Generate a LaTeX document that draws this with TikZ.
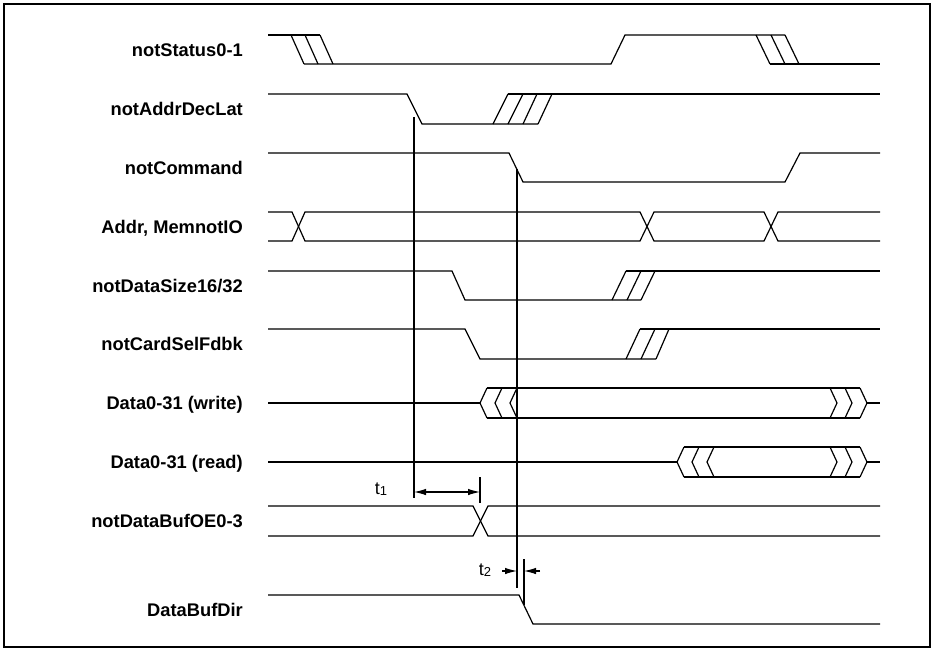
\documentclass[tikz,border=0pt]{standalone}
\usepackage{fontspec}
\setmainfont{Liberation Sans}
\usetikzlibrary{arrows.meta}
\tikzset{
  sig/.style={line width=1.2pt, line join=miter},
  mark line/.style={line width=1.1pt},
  frame/.style={line width=1.4pt},
  lbl/.style={anchor=base east, inner sep=0pt, font=\bfseries\fontsize{18.3}{20}\selectfont},
  tlbl/.style={anchor=center, inner sep=0pt, font=\fontsize{18}{19}\selectfont},
  dim/.style={line width=1.1pt, -{Latex[length=12pt,width=6.5pt]}},
}
\begin{document}
\begin{tikzpicture}[x=1pt,y=-1pt]
\useasboundingbox (0,0) rectangle (934,651);
\draw[frame] (4,4) rectangle (930,647);

% labels
\node[lbl] (l1)  at (243,56.1)  {notStatus0-1};
\node[lbl] (l2)  at (243,115.6) {notAddrDecLat};
\node[lbl] (l3)  at (243,174.1) {notCommand};
\node[lbl] (l4)  at (243,233.1) {Addr, MemnotIO};
\node[lbl] (l5)  at (243,292.1) {notDataSize16/32};
\node[lbl] (l6)  at (243,350.6) {notCardSelFdbk};
\node[lbl] (l7)  at (243,409.6) {Data0-31 (write)};
\node[lbl] (l8)  at (243,468.6) {Data0-31 (read)};
\node[lbl] (l9)  at (243,527.6) {notDataBufOE0-3};
\node[lbl] (l10) at (243,616.1) {DataBufDir};

% notStatus0-1
\draw[sig] (268,35) -- (320,35);
\draw[sig] (291,35) -- (304,64) (305,35) -- (318,64) (320,35) -- (333,64);
\draw[sig] (304,64) -- (611,64) -- (625,35) -- (785,35);
\draw[sig] (756,35) -- (770,64) (771,35) -- (785,64) (785,35) -- (799,64);
\draw[sig] (770,64) -- (880,64);

% notAddrDecLat
\draw[sig] (268,94) -- (407,94) -- (422,124) -- (538,124);
\draw[sig] (493,124) -- (508,94) (508,124) -- (523,94) (523,124) -- (537,94) (538,124) -- (552,94);
\draw[sig] (508,94) -- (880,94);

% notCommand
\draw[sig] (268,153) -- (509,153) -- (523,182) -- (785,182) -- (800,153) -- (880,153);

% Addr, MemnotIO
\draw[sig] (268,212) -- (292,212) -- (305,241) -- (640,241) -- (654,212) -- (764,212) -- (778,241) -- (880,241);
\draw[sig] (268,241) -- (292,241) -- (305,212) -- (640,212) -- (654,241) -- (764,241) -- (778,212) -- (880,212);

% notDataSize16/32
\draw[sig] (268,271) -- (452,271) -- (465,300) -- (641,300);
\draw[sig] (612,300) -- (626,271) (627,300) -- (641,271) (641,300) -- (655,271);
\draw[sig] (626,271) -- (880,271);

% notCardSelFdbk
\draw[sig] (268,329) -- (465,329) -- (480,359) -- (656,359);
\draw[sig] (626,359) -- (640,329) (641,359) -- (655,329) (656,359) -- (669,329);
\draw[sig] (640,329) -- (880,329);

% Data0-31 (write)
\draw[sig] (268,403) -- (480,403);
\foreach \x in {480,495,510} \draw[sig] (\x+7,388) -- (\x,403) -- (\x+7,418);
\draw[sig] (487,388) -- (860,388) (487,418) -- (860,418);
\foreach \x in {830,845,860} \draw[sig] (\x,388) -- (\x+7,403) -- (\x,418);
\draw[sig] (867,403) -- (880,403);

% Data0-31 (read)
\draw[sig] (268,462) -- (677,462);
\foreach \x in {677,692,707} \draw[sig] (\x+7,447) -- (\x,462) -- (\x+7,477);
\draw[sig] (684,447) -- (860,447) (684,477) -- (860,477);
\foreach \x in {830,845,860} \draw[sig] (\x,447) -- (\x+7,462) -- (\x,477);
\draw[sig] (867,462) -- (880,462);

% notDataBufOE0-3
\draw[sig] (268,506) -- (473,506) -- (488,536) -- (880,536);
\draw[sig] (268,536) -- (473,536) -- (488,506) -- (880,506);

% DataBufDir
\draw[sig] (268,595) -- (519,595) -- (533,624) -- (880,624);

% timing marks
\coordinate (a1) at (414,117);
\coordinate (a2) at (414,498);
\coordinate (b1) at (517,169);
\coordinate (b2) at (517,588);
\coordinate (c1) at (480,477);
\coordinate (c2) at (480,503);
\coordinate (d1) at (524,559);
\coordinate (d2) at (524,605);
\draw[mark line] (a1) -- (a2);
\draw[mark line] (b1) -- (b2);
\draw[mark line] (c1) -- (c2);
\draw[mark line] (d1) -- (d2);

% t1
\coordinate (t1l) at (414,492);
\coordinate (t1r) at (480,492);
\coordinate (t1m) at (447,492);
\draw[dim] (t1m) -- (t1l);
\draw[dim] (t1m) -- (t1r);
\node[tlbl] (t1) at (381,489) {t\raisebox{-1pt}{\fontsize{13}{13}\selectfont 1}};

% t2
\coordinate (t2a) at (502,571);
\coordinate (t2b) at (517,571);
\coordinate (t2c) at (540,571);
\coordinate (t2d) at (524,571);
\draw[dim] (t2a) -- (t2b);
\draw[dim] (t2c) -- (t2d);
\node[tlbl] (t2) at (485,570) {t\raisebox{-1pt}{\fontsize{13}{13}\selectfont 2}};
\end{tikzpicture}
\end{document}
